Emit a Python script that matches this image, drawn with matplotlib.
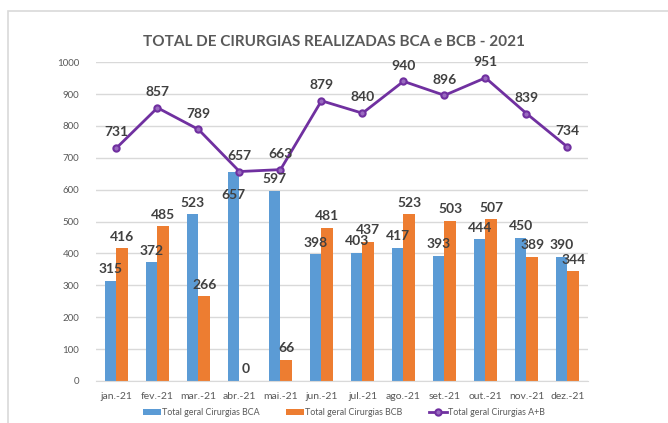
import matplotlib.pyplot as plt
import matplotlib
import numpy as np

plt.rcParams['font.family'] = ['Lato', 'DejaVu Sans']

# dados
meses = ['jan.-21', 'fev.-21', 'mar.-21', 'abr.-21', 'mai.-21', 'jun.-21',
         'jul.-21', 'ago.-21', 'set.-21', 'out.-21', 'nov.-21', 'dez.-21']
bca = [315, 372, 523, 657, 597, 398, 403, 417, 393, 444, 450, 390]
bcb = [416, 485, 266, 0, 66, 481, 437, 523, 503, 507, 389, 344]
total = [731, 857, 789, 657, 663, 879, 840, 940, 896, 951, 839, 734]

azul = '#5B9BD5'
laranja = '#ED7D31'
roxo = '#7030A0'
cinza_txt = '#404040'

fig = plt.figure(figsize=(6.68, 4.23), dpi=100)
ax = fig.add_axes([0.1437, 0.0993, 0.7365, 0.7537])

# moldura do grafico
borda = matplotlib.patches.Rectangle((0.012, -0.1), 1.2, 0.1 + 0.974, transform=fig.transFigure,
                                     fill=False, edgecolor='#D9D9D9', linewidth=1.2)
fig.patches.append(borda)

x = np.arange(len(meses))
w = 0.28
b1 = ax.bar(x - w / 2, bca, w, color=azul, label='Total geral Cirurgias BCA', zorder=2)
b2 = ax.bar(x + w / 2, bcb, w, color=laranja, label='Total geral Cirurgias BCB', zorder=2)
ln, = ax.plot(x, total, color=roxo, linewidth=2, marker='o', markersize=4.5,
              markerfacecolor='#9A6BC0', markeredgecolor=roxo, markeredgewidth=1.5,
              label='Total geral Cirurgias A+B', zorder=3)

for i, (rect, v) in enumerate(zip(list(b1) + list(b2), bca + bcb)):
    dy = 4
    if i == 3:
        # rotulo de abr. empurrado para baixo (como no excel)
        dy = -21
    ax.annotate(str(v), (rect.get_x() + rect.get_width() / 2, v), xytext=(0, dy),
                textcoords='offset points', ha='center', va='bottom',
                fontsize=10, fontweight='bold', color=cinza_txt, zorder=4)
for xi, v in zip(x, total):
    ax.annotate(str(v), (xi, v), xytext=(0, 7), textcoords='offset points',
                ha='center', va='bottom', fontsize=10, fontweight='bold',
                color=cinza_txt, zorder=4)

ax.set_ylim(0, 1000)
ax.set_xlim(-0.5, len(meses) - 0.5)
ax.set_yticks(range(0, 1001, 100))
ax.set_xticks(x)
ax.set_xticklabels(meses)
ax.yaxis.grid(True, color='#D9D9D9', linewidth=1, zorder=0)
ax.set_axisbelow(True)
for s in ['top', 'right', 'left']:
    ax.spines[s].set_visible(False)
ax.spines['bottom'].set_color('#D9D9D9')
ax.tick_params(axis='x', length=0, labelsize=7.5, labelcolor='#595959', pad=8)
ax.tick_params(axis='y', length=0, labelsize=7, labelcolor='#595959', pad=12)

fig.text(0.5, 0.90, 'TOTAL DE CIRURGIAS REALIZADAS BCA e BCB - 2021', ha='center',
         va='center', fontsize=11, fontweight='bold', color='#595959')

fig.legend(handles=[b1, b2, ln], loc='center', bbox_to_anchor=(0.515, 0.024), ncol=3,
           frameon=False, fontsize=6.4, handlelength=2.0, handleheight=0.7,
           handletextpad=0.1, columnspacing=3.0, labelcolor='#595959')

fig.savefig('out.png', dpi=100)
